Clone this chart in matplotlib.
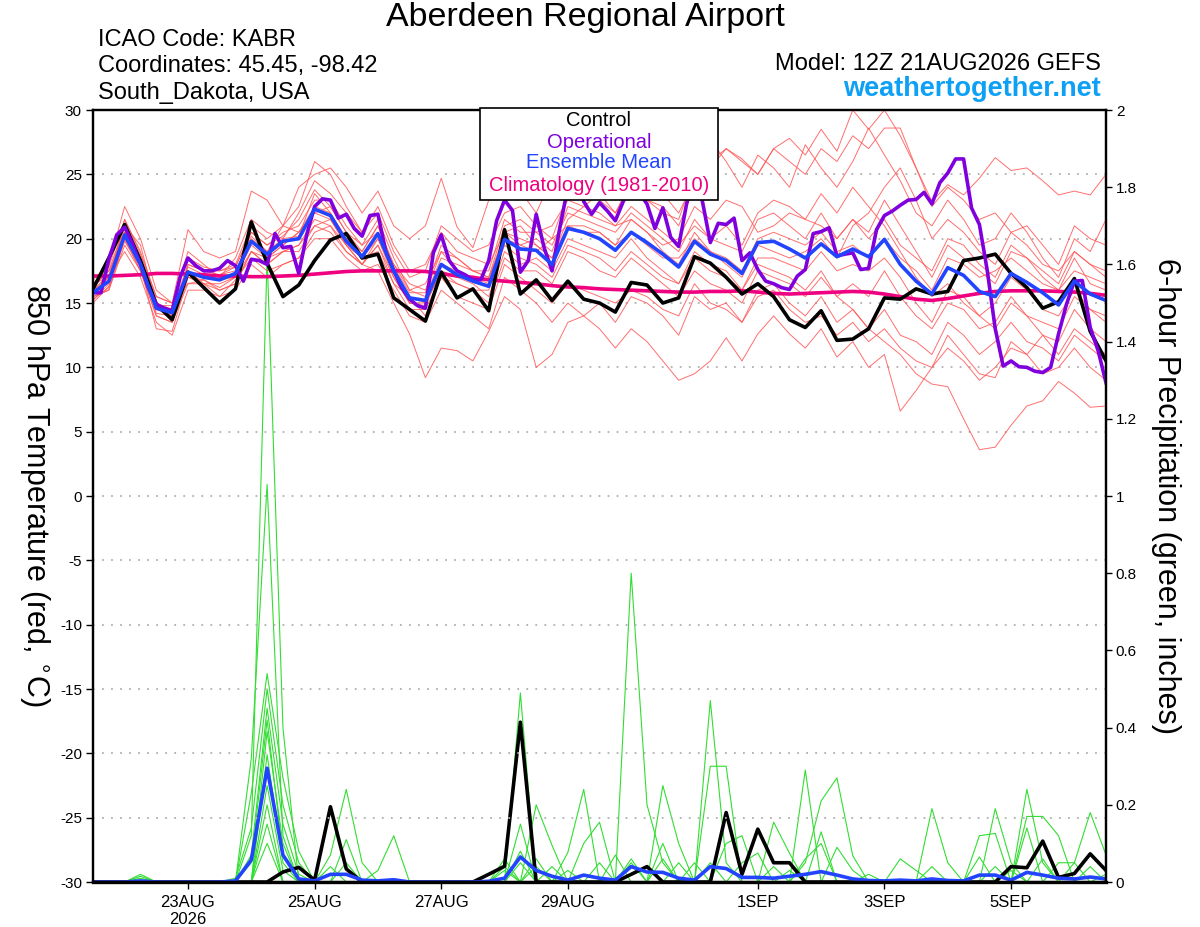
import numpy as np
import pandas as pd
import matplotlib
matplotlib.use("Agg")
import matplotlib.pyplot as plt
from matplotlib.patches import Rectangle

plt.rcParams["font.family"] = ["Liberation Sans", "DejaVu Sans"]
plt.rcParams["axes.unicode_minus"] = False

# 6-hourly GEFS steps and 3-hourly operational steps
times = pd.date_range("2026-08-21 12:00", periods=65, freq="6h")
times_op = pd.date_range("2026-08-21 12:00", periods=129, freq="3h")

tick_dates = pd.to_datetime(["2026-08-23", "2026-08-25", "2026-08-27", "2026-08-29",
                             "2026-09-01", "2026-09-03", "2026-09-05"])
tick_labels = ["23AUG\n2026", "25AUG", "27AUG", "29AUG", "1SEP", "3SEP", "5SEP"]

# ---- 850 hPa temperature (C) ----
control_t = [16.1, 18.5, 21.1, 18.3, 14.9, 13.7, 17.4, 16.2, 15.0, 16.1, 21.3,
             18.1, 15.5, 16.4, 18.3, 19.9, 20.4, 18.5, 18.8, 15.4, 14.5, 13.6,
             17.4, 15.4, 16.1, 14.4, 20.7, 15.7, 16.8, 15.2, 16.7, 15.3, 15.0,
             14.3, 16.6, 16.4, 15.0, 15.4, 18.6, 18.1, 17.0, 15.7, 16.5, 15.5,
             13.7, 13.1, 14.4, 12.1, 12.2, 13.0, 15.4, 15.3, 16.1, 15.7, 15.9,
             18.3, 18.5, 18.8, 17.3, 16.2, 14.6, 15.1, 16.9, 12.8, 10.5]

mean_t = [15.8, 16.7, 20.3, 18.0, 14.6, 14.25, 17.4, 17.0, 16.8, 17.3, 19.8,
          18.8, 19.8, 20.0, 22.3, 21.8, 19.8, 18.6, 20.4, 17.5, 15.4, 15.2,
          18.0, 17.2, 16.7, 16.3, 19.95, 19.2, 19.1, 18.0, 20.8, 20.5, 20.0,
          19.1, 20.5, 19.7, 18.8, 17.8, 19.8, 18.8, 18.3, 17.3, 19.7, 19.8,
          19.2, 18.5, 19.6, 18.6, 19.2, 18.6, 19.95, 18.0, 16.7, 15.7, 17.75,
          17.15, 15.9, 15.5, 17.3, 16.6, 15.8, 14.85, 16.7, 15.7, 15.2]

clim_t = [17.1, 17.1, 17.15, 17.2, 17.3, 17.3, 17.25, 17.2, 17.1, 17.1, 17.05,
          17.05, 17.1, 17.15, 17.25, 17.35, 17.45, 17.5, 17.5, 17.5, 17.5, 17.45,
          17.3, 17.1, 17.0, 16.8, 16.7, 16.6, 16.5, 16.35, 16.25, 16.2, 16.1,
          16.05, 16.0, 15.95, 15.9, 15.85, 15.85, 15.9, 15.9, 15.95, 15.85, 15.75,
          15.7, 15.75, 15.8, 15.85, 15.9, 15.85, 15.7, 15.5, 15.3, 15.2, 15.35,
          15.55, 15.75, 15.9, 15.95, 15.95, 15.95, 15.9, 15.85, 15.75, 15.6]

oper_t = [15.8, 15.8, 18.4, 20.3, 20.9, 19.6, 18.0, 16.2, 14.9, 14.6, 14.4,
          17.0, 18.5, 17.9, 17.5, 17.5, 17.7, 18.3, 17.9, 16.7, 18.4, 18.3,
          18.0, 20.4, 19.3, 19.4, 17.3, 20.3, 22.5, 23.1, 23.0, 21.6, 21.9,
          20.8, 20.2, 21.8, 21.9, 19.0, 17.5, 16.2, 15.3, 14.8, 14.6, 18.9,
          20.3, 18.3, 17.5, 17.2, 16.8, 16.8, 18.3, 21.4, 23.0, 22.2, 17.4,
          18.3, 21.9, 19.3, 17.5, 20.9, 24.0, 25.5, 22.9, 21.9, 22.8, 22.15,
          21.4, 22.9, 24.0, 23.6, 22.7, 20.8, 22.4, 20.1, 19.4, 22.7, 25.0,
          22.9, 19.7, 21.2, 21.1, 21.6, 18.3, 18.9, 17.6, 16.7, 16.5, 16.2,
          16.05, 17.1, 17.6, 20.4, 20.55, 20.85, 18.65, 18.8, 18.9, 17.6, 17.7,
          20.7, 21.8, 22.15, 22.6, 23.0, 23.05, 23.6, 22.7, 24.35, 25.1, 26.2,
          26.2, 22.4, 21.1, 17.5, 13.0, 10.1, 10.5, 10.05, 10.0, 9.7, 9.6,
          10.0, 12.6, 14.9, 16.7, 16.75, 13.1, 11.3, 8.8]

member01 = [16.2, 17.5, 21.0, 18.5, 15.0, 14.0, 18.0, 17.5, 17.2, 17.8, 20.5,
            19.5, 20.2, 21.5, 23.8, 22.5, 20.5, 19.0, 21.0, 18.0, 16.5, 16.0,
            19.5, 18.5, 17.5, 17.0, 21.0, 21.5, 20.5, 21.0, 23.0, 22.5, 23.5,
            22.0, 24.5, 23.0, 22.5, 21.0, 24.0, 25.5, 27.0, 26.0, 25.0, 27.0,
            27.8, 26.5, 28.5, 26.8, 30.0, 28.5, 30.0, 28.0, 25.5, 22.5, 24.0,
            23.0, 21.5, 22.0, 20.5, 19.5, 18.0, 17.5, 19.0, 18.0, 17.5]
member02 = [15.5, 16.0, 19.5, 17.5, 14.0, 13.5, 17.0, 16.8, 16.0, 16.5, 19.0,
            18.0, 19.0, 19.5, 21.5, 21.0, 19.0, 18.0, 17.5, 15.0, 12.6, 9.2,
            11.5, 11.3, 10.5, 12.8, 15.5, 14.5, 10.0, 11.0, 13.5, 14.0, 15.0,
            13.5, 15.5, 15.0, 14.0, 12.5, 15.5, 14.5, 15.0, 13.5, 16.0, 16.5,
            15.0, 14.0, 15.5, 13.5, 14.5, 13.0, 14.5, 12.5, 12.0, 11.0, 13.5,
            12.5, 11.0, 12.0, 13.5, 12.0, 11.5, 10.5, 12.5, 11.5, 10.5]
member03 = [16.0, 17.0, 20.5, 18.0, 14.5, 14.0, 17.5, 16.5, 16.5, 17.0, 19.5,
            18.5, 19.5, 20.5, 22.5, 22.0, 20.0, 18.5, 20.0, 17.0, 15.0, 15.0,
            17.5, 16.5, 16.0, 16.0, 19.5, 18.5, 18.0, 17.0, 19.5, 19.0, 18.5,
            17.5, 19.0, 18.0, 17.0, 16.5, 18.5, 17.5, 17.0, 16.0, 18.0, 17.5,
            17.0, 16.0, 17.5, 15.5, 14.5, 13.0, 12.0, 11.0, 9.5, 8.7, 8.5,
            6.0, 3.6, 3.8, 5.5, 7.0, 7.4, 8.9, 8.0, 6.9, 7.0]
member04 = [15.2, 16.5, 21.5, 19.0, 15.5, 15.0, 18.5, 17.8, 17.5, 18.0, 21.0,
            20.0, 21.0, 22.5, 26.0, 25.0, 22.5, 20.5, 22.0, 19.0, 17.0, 17.5,
            21.0, 20.0, 19.0, 19.5, 22.0, 22.5, 21.0, 20.0, 23.5, 24.0, 23.0,
            22.0, 24.0, 23.0, 22.0, 21.5, 25.0, 27.7, 26.0, 24.0, 26.5, 25.5,
            24.0, 27.3, 25.5, 24.0, 26.0, 28.6, 26.5, 24.5, 22.0, 21.0, 23.0,
            21.5, 19.5, 20.0, 22.0, 20.5, 18.5, 17.0, 20.0, 19.0, 21.5]
member05 = [16.5, 17.0, 19.0, 17.0, 13.5, 12.5, 16.0, 16.0, 15.5, 16.0, 18.0,
            17.0, 18.0, 18.5, 20.0, 20.0, 18.5, 17.5, 18.0, 16.0, 14.0, 13.5,
            16.0, 15.0, 14.0, 13.0, 17.0, 16.0, 15.0, 13.5, 15.0, 14.0, 13.0,
            11.5, 13.0, 12.0, 10.5, 9.0, 9.5, 10.5, 12.3, 10.5, 12.6, 14.0,
            12.6, 11.5, 13.0, 10.8, 12.0, 10.0, 11.0, 6.6, 8.2, 10.0, 12.5,
            11.0, 9.5, 9.2, 12.0, 11.0, 12.5, 11.0, 13.0, 12.0, 11.0]
member06 = [15.8, 17.0, 20.8, 18.5, 15.0, 14.5, 18.0, 17.5, 17.5, 17.8, 20.5,
            19.5, 20.5, 21.0, 23.0, 23.0, 21.0, 19.5, 21.5, 18.5, 16.0, 16.5,
            19.0, 18.5, 17.5, 17.5, 21.5, 20.5, 20.5, 19.5, 22.0, 21.5, 21.0,
            20.5, 22.0, 21.0, 20.0, 19.0, 21.5, 20.0, 19.5, 19.0, 21.5, 22.0,
            21.0, 20.0, 22.0, 20.0, 21.5, 20.5, 23.0, 21.0, 19.0, 17.0, 19.5,
            18.5, 17.5, 16.5, 19.0, 18.5, 17.0, 16.0, 18.5, 16.5, 16.0]
member07 = [15.5, 16.0, 20.0, 17.5, 14.0, 13.5, 16.5, 16.5, 16.0, 16.5, 19.0,
            18.0, 19.0, 19.0, 21.0, 20.5, 19.0, 18.0, 19.5, 16.5, 14.5, 14.5,
            17.0, 16.5, 16.0, 15.0, 18.5, 17.5, 17.5, 16.5, 19.0, 18.5, 17.5,
            17.0, 18.5, 17.5, 16.5, 15.5, 17.5, 16.5, 16.0, 15.0, 17.5, 17.0,
            16.5, 15.5, 17.0, 15.5, 16.5, 15.5, 17.5, 15.5, 14.0, 13.0, 15.0,
            14.5, 13.0, 13.5, 15.5, 14.0, 12.5, 12.0, 14.5, 13.0, 12.0]
member08 = [16.8, 18.0, 22.5, 20.0, 16.0, 15.0, 20.7, 19.0, 18.5, 19.0, 23.7,
            23.0, 21.0, 24.0, 25.0, 25.5, 24.0, 22.0, 23.7, 21.0, 20.0, 21.0,
            24.7, 20.9, 19.3, 23.0, 23.2, 23.7, 22.0, 24.7, 25.5, 24.5, 24.0,
            23.0, 25.0, 24.0, 23.5, 22.0, 24.5, 26.0, 27.0, 26.2, 25.0, 27.0,
            26.0, 25.0, 27.0, 26.0, 28.0, 27.0, 28.6, 28.6, 25.5, 22.9, 24.2,
            23.4, 24.7, 26.3, 25.3, 25.5, 24.5, 23.4, 23.7, 23.4, 25.0]
member09 = [16.0, 17.2, 21.0, 19.5, 14.8, 14.8, 19.0, 18.0, 17.0, 18.5, 21.5,
            20.5, 20.0, 22.0, 24.5, 23.5, 22.0, 20.5, 22.5, 19.5, 17.5, 18.0,
            20.5, 19.0, 18.5, 18.0, 20.5, 21.0, 19.5, 18.5, 21.5, 22.5, 22.0,
            21.0, 21.5, 20.5, 19.5, 20.0, 22.5, 21.5, 23.0, 22.5, 20.5, 21.0,
            22.0, 21.5, 23.5, 22.0, 24.0, 22.5, 21.0, 19.0, 17.0, 15.5, 16.5,
            15.0, 14.0, 15.0, 17.0, 16.0, 14.5, 14.0, 16.0, 14.5, 13.5]
member10 = [15.0, 16.3, 19.8, 17.8, 13.0, 12.8, 17.0, 16.5, 15.5, 16.8, 18.5,
            17.5, 18.0, 18.5, 20.5, 21.0, 19.5, 18.5, 19.0, 16.5, 15.5, 14.0,
            17.0, 15.5, 15.0, 14.5, 18.0, 17.0, 16.0, 15.0, 16.5, 16.0, 15.5,
            15.0, 16.0, 15.5, 14.5, 14.0, 16.5, 15.0, 14.5, 13.5, 15.5, 16.0,
            14.5, 13.5, 14.0, 12.5, 13.5, 12.0, 13.0, 11.5, 10.5, 10.0, 11.5,
            10.5, 9.0, 10.0, 11.5, 11.0, 9.5, 10.0, 11.5, 10.0, 9.0]
member11 = [16.3, 17.5, 20.0, 17.5, 14.8, 14.5, 17.5, 17.0, 17.2, 17.5, 20.0,
            19.0, 21.0, 20.5, 22.0, 22.5, 20.5, 19.5, 20.5, 18.0, 16.0, 15.5,
            18.5, 18.0, 17.5, 17.0, 20.0, 19.5, 19.0, 20.0, 21.0, 20.5, 20.5,
            19.5, 20.5, 19.5, 18.5, 18.5, 20.0, 19.0, 18.5, 17.5, 20.0, 20.5,
            20.0, 19.5, 20.5, 19.0, 19.5, 18.5, 20.0, 18.5, 17.5, 16.0, 18.5,
            18.0, 17.0, 17.5, 18.5, 17.5, 16.5, 16.0, 17.5, 17.0, 16.5]
member12 = [15.7, 16.8, 20.5, 18.2, 14.2, 14.0, 17.8, 17.2, 16.8, 17.0, 19.8,
            18.5, 19.5, 20.5, 22.0, 21.5, 19.5, 18.0, 20.0, 17.5, 15.5, 15.0,
            18.0, 17.5, 17.0, 16.5, 20.5, 20.0, 19.5, 18.5, 21.0, 21.0, 20.5,
            19.5, 21.5, 20.5, 19.0, 18.0, 20.5, 19.0, 18.0, 17.0, 19.5, 19.0,
            18.5, 19.0, 20.0, 18.5, 21.0, 22.0, 24.0, 25.5, 23.0, 20.0, 21.5,
            20.5, 19.0, 18.0, 20.5, 21.0, 19.5, 18.0, 21.0, 20.0, 19.5]
member13 = [16.5, 17.8, 21.5, 18.8, 15.5, 15.0, 16.5, 16.8, 16.2, 17.0, 19.0,
            18.5, 19.0, 19.5, 21.0, 21.5, 19.5, 18.0, 19.5, 17.0, 15.0, 14.8,
            17.5, 17.0, 16.5, 15.5, 19.0, 18.0, 18.5, 17.5, 20.0, 19.5, 19.0,
            18.5, 20.0, 18.5, 17.5, 16.5, 19.0, 18.0, 17.5, 16.0, 18.5, 18.5,
            18.0, 17.5, 19.0, 17.5, 18.0, 17.5, 18.5, 17.0, 15.0, 13.5, 16.0,
            15.5, 14.0, 13.0, 15.0, 14.0, 13.5, 13.0, 15.5, 14.5, 14.0]
member14 = [15.3, 16.2, 20.3, 18.0, 14.7, 14.4, 17.3, 17.1, 16.9, 17.4, 20.2,
            19.0, 20.0, 20.2, 23.5, 22.0, 20.0, 19.0, 21.0, 17.8, 15.8, 15.8,
            19.0, 17.5, 17.0, 16.8, 20.5, 19.5, 20.0, 19.0, 22.5, 22.0, 21.5,
            21.0, 22.5, 21.5, 20.5, 19.5, 21.0, 20.0, 21.0, 19.5, 22.0, 23.0,
            22.5, 21.5, 21.0, 20.0, 21.5, 20.0, 21.5, 19.5, 18.5, 17.5, 20.0,
            19.5, 18.0, 17.0, 19.5, 18.5, 17.5, 16.5, 19.0, 18.0, 17.0]
members_t = [member01, member02, member03, member04, member05, member06, member07,
             member08, member09, member10, member11, member12, member13, member14]

# ---- 6-hour precipitation (inches) ----
control_p = [0, 0, 0, 0, 0, 0, 0, 0, 0, 0, 0, 0, 0.026,
             0.038, 0.005, 0.195, 0.034, 0, 0, 0, 0, 0, 0, 0, 0, 0.02,
             0.041, 0.414, 0, 0, 0, 0, 0, 0, 0.02, 0.04, 0, 0, 0,
             0, 0.18, 0.02, 0.137, 0.05, 0.05, 0, 0, 0, 0, 0, 0, 0,
             0, 0, 0, 0, 0, 0, 0.04, 0.037, 0.106, 0.012, 0.022, 0.073, 0.03]
mean_p = [0, 0, 0, 0.003, 0, 0, 0, 0, 0, 0.003, 0.057, 0.295, 0.07,
          0.008, 0.003, 0.02, 0.02, 0.005, 0.003, 0.006, 0, 0, 0, 0, 0, 0.002,
          0.01, 0.065, 0.03, 0.015, 0.005, 0.018, 0.01, 0.005, 0.04, 0.026, 0.025, 0.01, 0.005,
          0.04, 0.035, 0.012, 0.012, 0.01, 0.015, 0.02, 0.027, 0.018, 0.008, 0.004, 0.003, 0.005,
          0.003, 0.008, 0.004, 0.003, 0.018, 0.018, 0.005, 0.025, 0.018, 0.01, 0.008, 0.013, 0.008]

green01 = [0, 0, 0, 0.015, 0, 0, 0, 0, 0, 0, 0.12, 1.62, 0.4,
           0, 0, 0, 0, 0, 0, 0, 0, 0, 0, 0, 0, 0,
           0, 0, 0.04, 0, 0, 0, 0.05, 0, 0.8, 0.2, 0.05, 0, 0,
           0, 0, 0, 0, 0, 0.03, 0, 0, 0, 0, 0, 0, 0,
           0, 0, 0, 0, 0, 0, 0, 0.24, 0.05, 0, 0, 0, 0]
green02 = [0, 0, 0, 0.01, 0, 0, 0, 0, 0, 0, 0.32, 1.03, 0.12,
           0, 0, 0, 0, 0, 0, 0, 0, 0, 0, 0, 0, 0,
           0.04, 0, 0, 0, 0.03, 0, 0, 0, 0.05, 0, 0, 0, 0,
           0.47, 0.05, 0, 0, 0, 0, 0, 0, 0, 0, 0.02, 0, 0,
           0, 0, 0, 0, 0, 0, 0.03, 0, 0, 0, 0, 0, 0]
green03 = [0, 0, 0, 0.02, 0, 0, 0, 0, 0, 0, 0.23, 0.54, 0.27,
           0.08, 0, 0, 0, 0, 0, 0, 0, 0, 0, 0, 0, 0,
           0, 0.49, 0, 0, 0, 0, 0, 0, 0, 0, 0.25, 0.1, 0,
           0, 0, 0, 0, 0, 0, 0, 0.13, 0, 0, 0, 0, 0,
           0, 0, 0, 0, 0, 0, 0, 0.17, 0.17, 0.12, 0, 0, 0]
green04 = [0, 0, 0, 0, 0, 0, 0, 0, 0, 0.01, 0.14, 0.5, 0.2,
           0.05, 0, 0, 0, 0, 0, 0, 0, 0, 0, 0, 0, 0,
           0, 0.15, 0, 0, 0, 0, 0, 0, 0, 0, 0.1, 0, 0,
           0.05, 0, 0, 0, 0, 0, 0.29, 0, 0, 0, 0, 0, 0,
           0, 0, 0, 0, 0, 0, 0, 0, 0, 0.05, 0.05, 0, 0]
green05 = [0, 0, 0, 0, 0, 0, 0, 0, 0, 0, 0.07, 0.45, 0.15,
           0.02, 0, 0, 0, 0, 0, 0, 0, 0, 0, 0, 0, 0,
           0.06, 0, 0.2, 0.095, 0, 0, 0, 0, 0, 0, 0, 0.05, 0,
           0, 0, 0, 0, 0, 0, 0.05, 0.21, 0.27, 0.068, 0, 0, 0,
           0, 0, 0, 0, 0, 0, 0, 0, 0, 0, 0, 0.04, 0]
green06 = [0, 0, 0, 0, 0, 0, 0, 0, 0, 0, 0.05, 0.42, 0.07,
           0, 0, 0.07, 0.24, 0.05, 0, 0, 0, 0, 0, 0, 0, 0,
           0, 0.08, 0, 0, 0, 0, 0, 0.07, 0, 0, 0, 0, 0,
           0, 0, 0, 0, 0.04, 0, 0, 0, 0, 0, 0, 0, 0.06,
           0.03, 0, 0, 0, 0, 0, 0, 0, 0, 0, 0, 0, 0.02]
green07 = [0, 0, 0, 0, 0, 0, 0, 0, 0, 0, 0, 0.39, 0.1,
           0, 0, 0.04, 0, 0, 0, 0, 0, 0, 0, 0, 0, 0,
           0.03, 0, 0, 0, 0, 0, 0, 0, 0, 0, 0.06, 0, 0,
           0, 0, 0, 0, 0, 0, 0.06, 0.1, 0, 0, 0, 0, 0,
           0, 0.19, 0.05, 0, 0, 0, 0, 0, 0, 0, 0, 0, 0]
green08 = [0, 0, 0, 0, 0, 0, 0, 0, 0, 0, 0, 0.33, 0.05,
           0, 0, 0, 0.11, 0, 0, 0, 0, 0, 0, 0, 0, 0,
           0, 0.05, 0, 0, 0, 0, 0, 0, 0, 0, 0, 0, 0.05,
           0, 0, 0, 0, 0, 0, 0, 0, 0.09, 0.03, 0, 0, 0,
           0, 0, 0, 0, 0.12, 0.126, 0, 0, 0, 0, 0, 0, 0]
green09 = [0, 0, 0, 0, 0, 0, 0, 0, 0, 0, 0, 0.25, 0.03,
           0, 0, 0, 0.05, 0, 0, 0, 0, 0, 0, 0, 0, 0,
           0, 0, 0.06, 0, 0, 0, 0, 0, 0.06, 0, 0, 0, 0,
           0.3, 0.3, 0, 0, 0, 0, 0, 0, 0, 0, 0, 0, 0,
           0, 0.04, 0, 0, 0, 0.19, 0.05, 0, 0, 0, 0, 0, 0]
green10 = [0, 0, 0, 0, 0, 0, 0, 0, 0, 0, 0, 0.2, 0,
           0, 0, 0, 0, 0, 0.03, 0.12, 0, 0, 0, 0, 0, 0,
           0, 0, 0, 0.04, 0, 0, 0, 0, 0, 0, 0, 0, 0,
           0, 0.1, 0.12, 0, 0, 0, 0, 0, 0, 0, 0, 0, 0,
           0, 0, 0, 0, 0.065, 0, 0, 0.14, 0, 0, 0, 0, 0]
green11 = [0, 0, 0, 0, 0, 0, 0, 0, 0, 0, 0, 0.15, 0,
           0, 0, 0, 0, 0, 0, 0, 0, 0, 0, 0, 0, 0,
           0, 0, 0, 0, 0.077, 0.24, 0, 0, 0, 0, 0, 0, 0,
           0, 0, 0.05, 0.075, 0, 0, 0, 0, 0, 0, 0, 0, 0,
           0, 0, 0, 0, 0, 0.04, 0, 0, 0.06, 0, 0, 0, 0]
green12 = [0, 0, 0, 0, 0, 0, 0, 0, 0, 0, 0, 0.1, 0,
           0, 0, 0, 0, 0, 0, 0, 0, 0, 0, 0, 0, 0,
           0, 0, 0, 0, 0, 0.1, 0.155, 0, 0, 0, 0, 0, 0,
           0, 0, 0, 0, 0.155, 0.075, 0, 0, 0, 0, 0, 0, 0,
           0, 0, 0, 0, 0, 0, 0, 0, 0, 0, 0.05, 0.18, 0.07]
members_p = [green01, green02, green03, green04, green05, green06,
             green07, green08, green09, green10, green11, green12]

temp_ticks = [-30, -25, -20, -15, -10, -5, 0, 5, 10, 15, 20, 25, 30]
precip_ticks = [0, 0.2, 0.4, 0.6, 0.8, 1, 1.2, 1.4, 1.6, 1.8, 2]

RED = "#ff5555"
GREEN = "#33dd33"
PURPLE = "#8000dd"
BLUE = "#2244ff"
PINK = "#ee0080"

fig = plt.figure(figsize=(12, 9.27), dpi=100)
ax = fig.add_axes([0.0775, 0.0485, 0.8442, 0.8328])
ax2 = ax.twinx()
ax.set_zorder(ax2.get_zorder() + 1)
ax.patch.set_visible(False)

# precipitation (right axis)
for m in members_p:
    ax2.plot(times, m, color=GREEN, lw=0.8)
ax2.plot(times, control_p, color="black", lw=2.6)
ax2.plot(times, mean_p, color=BLUE, lw=2.6)
ax2.set_ylim(0, 2)
ax2.set_yticks(precip_ticks)
ax2.set_yticklabels([f"{v:g}" for v in precip_ticks])
ax2.tick_params(axis="y", direction="out", length=4, width=1, labelsize=11, pad=3)
ax2.set_ylabel("6-hour Precipitation (green, inches)", fontsize=22, rotation=270, labelpad=32)

# temperature (left axis)
for m in members_t:
    ax.plot(times, m, color=RED, lw=0.7, alpha=0.85)
ax.plot(times, clim_t, color=PINK, lw=2.6)
ax.plot(times, control_t, color="black", lw=2.6)
ax.plot(times_op, oper_t, color=PURPLE, lw=2.6)
ax.plot(times, mean_t, color=BLUE, lw=2.6)

ax.set_ylim(-30, 30)
ax.set_yticks(temp_ticks)
ax.set_xlim(times[0], times[-1])
ax.set_xticks(tick_dates)
ax.set_xticklabels(tick_labels)
ax.tick_params(axis="y", direction="out", length=5, width=1, labelsize=11, pad=3)
ax.tick_params(axis="x", direction="out", length=5, width=1, labelsize=12, pad=4)
ax.grid(True, axis="y", color="#b0b0b0", linestyle=(0, (1, 4)), linewidth=1.3)
ax.set_ylabel("850 hPa Temperature (red, $^{\\circ}$C)", fontsize=22, rotation=270,
              labelpad=30, va="bottom")

for a in (ax, ax2):
    for s in a.spines.values():
        s.set_linewidth(1.6)
ax.spines["bottom"].set_linewidth(2.4)

# header texts
fig.text(0.488, 0.9806, "Aberdeen Regional Airport", ha="center", va="center", fontsize=24.5)
fig.text(0.0817, 0.9568, "ICAO Code: KABR", ha="left", va="center", fontsize=17)
fig.text(0.0817, 0.9288, "Coordinates: 45.45, -98.42", ha="left", va="center", fontsize=17)
fig.text(0.0817, 0.8997, "South_Dakota, USA", ha="left", va="center", fontsize=17)
fig.text(0.9175, 0.931, "Model: 12Z 21AUG2026 GEFS", ha="right", va="center", fontsize=17)
fig.text(0.9175, 0.904, "weathertogether.net", ha="right", va="center", fontsize=19.5,
         fontweight="bold", color="#0da0f5")

# legend box
fig.add_artist(Rectangle((0.4, 0.7843), 0.198, 0.0992, transform=fig.transFigure,
                         facecolor="white", edgecolor="black", lw=1.2, zorder=5))
legend_rows = [("Control", "black", 0.8695), ("Operational", PURPLE, 0.8468),
               ("Ensemble Mean", BLUE, 0.8242), ("Climatology (1981-2010)", PINK, 0.8004)]
for label, col, yy in legend_rows:
    fig.text(0.499, yy, label, ha="center", va="center", fontsize=14.5, color=col, zorder=6)

fig.savefig("out.png", dpi=100)
